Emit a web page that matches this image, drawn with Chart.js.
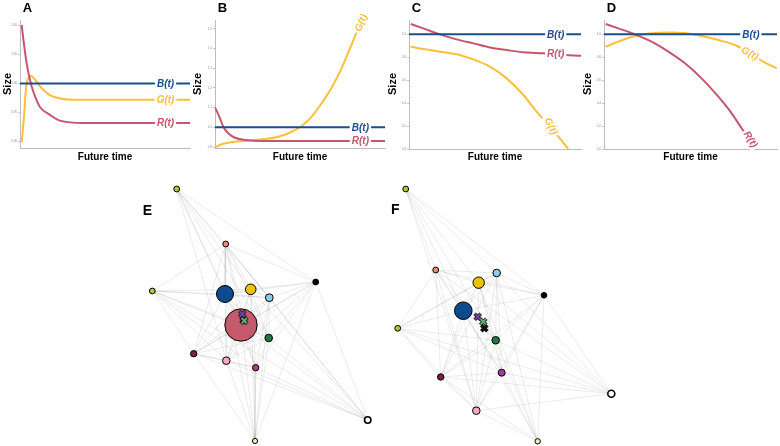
<!DOCTYPE html>
<html>
<head>
<meta charset="utf-8">
<script src="https://cdn.jsdelivr.net/npm/chart.js@4.4.1/dist/chart.umd.min.js"></script>
<style>
body { margin: 0; background: #fff; }
#wrap { position: relative; width: 780px; height: 446px; overflow: hidden; }
canvas { position: absolute; }
</style>
</head>
<body>
<div id="wrap">
	<canvas id="chartA" width="205" height="165" style="left:0px;top:0px"></canvas>
	<canvas id="chartB" width="205" height="165" style="left:185px;top:0px"></canvas>
	<canvas id="chartC" width="205" height="165" style="left:380px;top:0px"></canvas>
	<canvas id="chartD" width="205" height="165" style="left:575px;top:0px"></canvas>
	<canvas id="netE" width="260" height="271" style="left:130px;top:175px"></canvas>
	<canvas id="netF" width="260" height="271" style="left:380px;top:175px"></canvas>
</div>
<script>
var BLUE = '#1b4e8e', GOLD = '#fcbf3a', ROSE = '#c6566e';
var FONT = '"Liberation Sans", Arial, sans-serif';

// ---- panel A ----
var aTimeB = [0, 1];
var aB = [1.0, 1.0];
var aTimeG = [0.01, 0.018, 0.024, 0.031, 0.039, 0.051, 0.065, 0.078, 0.098, 0.118, 0.137, 0.176, 0.235, 0.314, 1.0];
var aG = [0.899, 0.925, 0.943, 0.977, 1.000, 1.010, 1.013, 1.010, 1.003, 0.995, 0.989, 0.980, 0.974, 0.972, 0.972];
var aTimeR = [0.01, 0.018, 0.039, 0.059, 0.078, 0.098, 0.118, 0.176, 0.235, 0.373, 1.0];
var aR = [1.100, 1.080, 1.035, 1.006, 0.986, 0.971, 0.959, 0.946, 0.936, 0.932, 0.932];
var aTicks = [0.90, 0.95, 1.00, 1.05, 1.10];

// ---- panel B ----
var bTimeB = [0, 1];
var bB = [1.0, 1.0];
var bTimeG = [0.004, 0.039, 0.078, 0.176, 0.275, 0.373, 0.431, 0.5, 0.569, 0.627, 0.686, 0.745, 0.794, 0.833];
var bG = [0.900, 0.914, 0.922, 0.931, 0.939, 0.952, 0.970, 1.0, 1.054, 1.122, 1.200, 1.300, 1.400, 1.480];
var bTimeR = [0.0, 0.029, 0.049, 0.078, 0.118, 0.176, 0.275, 1.0];
var bR = [1.101, 1.046, 1.003, 0.970, 0.947, 0.936, 0.931, 0.931];
var bTicks = [0.9, 1.0, 1.1, 1.2, 1.3, 1.4, 1.5];

// ---- panel C ----
var cTimeB = [0, 1];
var cB = [1.0, 1.0];
var cTimeG = [0.01, 0.083, 0.18, 0.277, 0.374, 0.471, 0.568, 0.665, 0.742, 0.878, 0.926];
var cG = [0.892, 0.872, 0.849, 0.826, 0.782, 0.718, 0.616, 0.471, 0.325, 0.09, 0.0];
var cTimeR = [0.01, 0.083, 0.18, 0.277, 0.374, 0.471, 0.568, 0.665, 0.781, 0.878, 1.0];
var cR = [1.09, 1.052, 1.0, 0.956, 0.921, 0.886, 0.863, 0.843, 0.834, 0.822, 0.814];
var cdTicks = [0.0, 0.2, 0.4, 0.6, 0.8, 1.0];

// ---- panel D ----
var dTimeB = [0, 1];
var dB = [1.0, 1.0];
var dTimeG = [0.01, 0.083, 0.179, 0.275, 0.372, 0.468, 0.564, 0.661, 0.757, 0.921, 0.998];
var dG = [0.892, 0.936, 0.985, 1.009, 1.017, 1.011, 0.985, 0.950, 0.907, 0.761, 0.704];
var dTimeR = [0.01, 0.083, 0.179, 0.275, 0.372, 0.468, 0.564, 0.661, 0.738, 0.796, 0.87];
var dR = [1.09, 1.052, 1.0, 0.936, 0.849, 0.747, 0.616, 0.456, 0.311, 0.18, 0.03];

// ---- networks E / F ----
var nodeColors = ['#b5c334', '#f08a6b', '#b5c334', '#0d4a8e', '#e9c200', '#8ccbee', '#000000',
	'#c45a6c', '#1b7a3e', '#7c1f4f', '#f6a9bd', '#a43d97', '#ffffff', '#eeeeb6'];
var eNodeX = [46.7, 95.7, 22.3, 95, 120.7, 139.3, 185.7, 111, 138.7, 63.7, 96.3, 125.7, 237.7, 125];
var eNodeY = [14, 69, 116, 119, 114.3, 122.7, 107, 150, 163, 178.7, 185.7, 192.7, 245, 266];
var eNodeR = [2.9, 2.9, 2.9, 8.5, 5.3, 3.9, 2.9, 16.2, 3.8, 3.2, 3.8, 3.2, 3.2, 2.6];
var fNodeX = [25.7, 55.7, 17.7, 83.3, 98.7, 116.7, 164, null, 115.7, 60.7, 96.3, 121.7, 231.3, 157.7];
var fNodeY = [14, 95, 153.3, 135.7, 107.7, 98, 120.3, null, 165.3, 202, 235.7, 197.7, 218.7, 266.3];
var fNodeR = [2.9, 2.9, 2.9, 8.8, 5.7, 3.8, 2.8, 0, 3.8, 3.2, 3.8, 3.5, 3.5, 2.7];
var crossColors = ['#111111', '#7a3f9e', '#5fae73'];
var eCrossX = [113.5, 112.3, 114.3];
var eCrossY = [145, 139, 145.7];
var fCrossX = [104.3, 97.7, 103.3];
var fCrossY = [153.3, 141.7, 146.7];
var edges = [
	[0,1],[0,3],[0,4],[0,5],[0,6],[0,7],[0,8],[0,10],
	[1,2],[1,3],[1,4],[1,5],[1,6],[1,7],[1,8],[1,9],[1,10],[1,11],[1,12],
	[2,3],[2,4],[2,5],[2,7],[2,8],[2,9],[2,10],[2,11],[2,12],
	[3,4],[3,5],[3,6],[3,7],[3,8],[3,9],[3,10],[3,11],[3,13],
	[4,5],[4,6],[4,7],[4,8],[4,9],[4,10],[4,11],[4,12],[4,13],
	[5,6],[5,7],[5,8],[5,9],[5,10],[5,11],[5,12],[5,13],
	[6,7],[6,8],[6,9],[6,10],[6,11],[6,12],[6,13],
	[7,8],[7,9],[7,10],[7,11],[7,12],[7,13],
	[8,9],[8,10],[8,11],[8,12],[8,13],
	[9,10],[9,11],[9,12],[9,13],
	[10,11],[10,12],[10,13],
	[11,12],[11,13]
];

var _zip = function(xs, ys) {
	var out = [];
	for (var i = 0; i < xs.length; i++) out.push({x: xs[i], y: ys[i]});
	return out;
};

// text drawn on top: panel letter, axis titles, curve labels
var panelText = {
	id: 'panelText',
	afterDatasetsDraw: function(chart, args, opts) {
		var ctx = chart.ctx;
		var area = chart.chartArea;
		ctx.save();
		(opts.curveLabels || []).forEach(function(l) {
			var px = chart.scales.x.getPixelForValue(l.t);
			var py = chart.scales.y.getPixelForValue(l.v);
			ctx.save();
			ctx.translate(px, py);
			ctx.rotate((l.rot || 0) * Math.PI / 180);
			ctx.font = 'italic bold 10px ' + FONT;
			var w = ctx.measureText(l.text).width;
			ctx.fillStyle = '#fff';
			ctx.fillRect(-w / 2 - 2, -6, w + 4, 12);
			ctx.fillStyle = l.color;
			ctx.textAlign = 'center';
			ctx.textBaseline = 'middle';
			ctx.fillText(l.text, 0, 0.5);
			ctx.restore();
		});
		ctx.fillStyle = '#000';
		if (opts.letter) {
			ctx.font = 'bold ' + (opts.letterSize || 13) + 'px ' + FONT;
			ctx.textAlign = 'left';
			ctx.textBaseline = 'alphabetic';
			ctx.fillText(opts.letter, opts.letterX, opts.letterY);
		}
		if (opts.xTitle) {
			ctx.font = 'bold 10px ' + FONT;
			ctx.textAlign = 'center';
			ctx.textBaseline = 'middle';
			ctx.fillText(opts.xTitle, (area.left + area.right) / 2, 157);
		}
		if (opts.yTitle) {
			ctx.save();
			ctx.translate(opts.yTitleX, 84);
			ctx.rotate(-Math.PI / 2);
			ctx.font = 'bold 11px ' + FONT;
			ctx.textAlign = 'center';
			ctx.textBaseline = 'middle';
			ctx.fillText(opts.yTitle, 0, 0);
			ctx.restore();
		}
		ctx.restore();
	}
};

var _lineSet = function(ts, vs, color) {
	return {
		data: _zip(ts, vs),
		borderColor: color,
		borderWidth: 2,
		pointRadius: 0,
		fill: false,
		cubicInterpolationMode: 'monotone'
	};
};

var makeCurveChart = function(id, c) {
	new Chart(document.getElementById(id), {
		type: 'line',
		data: { datasets: [
			_lineSet(c.bT, c.bV, BLUE),
			_lineSet(c.rT, c.rV, ROSE),
			_lineSet(c.gT, c.gV, GOLD)
		] },
		options: {
			responsive: false,
			animation: false,
			devicePixelRatio: 1,
			layout: { autoPadding: false, padding: { top: 20, right: c.padRight, left: 0, bottom: 0 } },
			plugins: {
				legend: { display: false },
				tooltip: { enabled: false },
				panelText: {
					letter: c.letter, letterX: c.left + 2.7, letterY: 11.7,
					xTitle: 'Future time', yTitle: 'Size', yTitleX: c.sizeX,
					curveLabels: c.labels
				}
			},
			scales: {
				x: {
					type: 'linear', min: 0, max: 1,
					ticks: { display: false },
					grid: { display: false },
					border: { color: '#bdbdbd', width: 1 },
					afterFit: function(s) { s.height = 165 - c.bottom; }
				},
				y: {
					min: c.yMin, max: c.yMax,
					afterBuildTicks: function(s) { s.ticks = c.ticks.map(function(v) { return {value: v}; }); },
					ticks: {
						font: { size: 3, family: FONT },
						color: '#8a8a8a',
						padding: 1,
						callback: function(v) { return v.toFixed(c.digits); }
					},
					grid: { drawOnChartArea: false, tickLength: 2, color: '#c4c4c4' },
					border: { color: '#bdbdbd', width: 1 },
					afterFit: function(s) { s.width = c.left; }
				}
			}
		},
		plugins: [panelText]
	});
};

var _edgeData = function(xs, ys) {
	var pts = [];
	edges.forEach(function(e) {
		if (xs[e[0]] === null || xs[e[1]] === null) return;
		pts.push({x: xs[e[0]], y: ys[e[0]]}, {x: xs[e[1]], y: ys[e[1]]}, {x: null, y: null});
	});
	return pts;
};

var makeNetChart = function(id, n) {
	var nodes = [];
	var radii = [], fills = [], widths = [];
	for (var i = 0; i < n.x.length; i++) {
		if (n.x[i] === null) continue;
		nodes.push({x: n.x[i], y: n.y[i]});
		radii.push(n.r[i]);
		fills.push(nodeColors[i]);
		widths.push(nodeColors[i] === '#ffffff' ? 1.6 : 1);
	}
	new Chart(document.getElementById(id), {
		type: 'scatter',
		data: { datasets: [
			{
				data: _edgeData(n.x, n.y), showLine: true, spanGaps: false,
				borderColor: 'rgba(0,0,0,0.1)', borderWidth: 0.8, pointRadius: 0, order: 4
			},
			{
				data: nodes, pointRadius: radii, pointBackgroundColor: fills,
				pointBorderColor: '#000', pointBorderWidth: widths, order: 3
			},
			{
				data: _zip(n.cx, n.cy), pointStyle: 'crossRot', pointRadius: 4.3,
				pointBorderColor: '#1a1a1a', pointBorderWidth: 3.6, order: 2
			},
			{
				data: _zip(n.cx, n.cy), pointStyle: 'crossRot', pointRadius: 3.8,
				pointBorderColor: crossColors, pointBorderWidth: 2, order: 1
			}
		] },
		options: {
			responsive: false,
			animation: false,
			devicePixelRatio: 1,
			layout: { autoPadding: false, padding: 0 },
			plugins: {
				legend: { display: false },
				tooltip: { enabled: false },
				panelText: { letter: n.letter, letterX: n.letterX, letterY: n.letterY, letterSize: 14 }
			},
			scales: {
				x: { type: 'linear', min: 0, max: 260, display: false },
				y: { type: 'linear', min: 0, max: 271, reverse: true, display: false }
			}
		},
		plugins: [panelText]
	});
};

window.addEventListener('load', function() {
	makeCurveChart('chartA', {
		letter: 'A', left: 20, padRight: 15, bottom: 148, sizeX: 8.3,
		yMin: 0.889, yMax: 1.109, ticks: aTicks, digits: 2,
		bT: aTimeB, bV: aB, gT: aTimeG, gV: aG, rT: aTimeR, rV: aR,
		labels: [
			{text: 'B(t)', t: 0.856, v: 1.0, color: BLUE},
			{text: 'G(t)', t: 0.856, v: 0.972, color: GOLD},
			{text: 'R(t)', t: 0.856, v: 0.932, color: ROSE}
		]
	});
	makeCurveChart('chartB', {
		letter: 'B', left: 30, padRight: 5, bottom: 148, sizeX: 13.3,
		yMin: 0.895, yMax: 1.544, ticks: bTicks, digits: 1,
		bT: bTimeB, bV: bB, gT: bTimeG, gV: bG, rT: bTimeR, rV: bR,
		labels: [
			{text: 'B(t)', t: 0.855, v: 1.0, color: BLUE},
			{text: 'R(t)', t: 0.855, v: 0.931, color: ROSE},
			{text: 'G(t)', t: 0.858, v: 1.53, color: GOLD, rot: -68}
		]
	});
	makeCurveChart('chartC', {
		letter: 'C', left: 29, padRight: 4, bottom: 149, sizeX: 13.3,
		yMin: 0, yMax: 1.125, ticks: cdTicks, digits: 1,
		bT: cTimeB, bV: cB, gT: cTimeG, gV: cG, rT: cTimeR, rV: cR,
		labels: [
			{text: 'B(t)', t: 0.853, v: 1.0, color: BLUE},
			{text: 'R(t)', t: 0.853, v: 0.834, color: ROSE},
			{text: 'G(t)', t: 0.826, v: 0.2, color: GOLD, rot: 65}
		]
	});
	makeCurveChart('chartD', {
		letter: 'D', left: 29, padRight: 3, bottom: 149, sizeX: 13.3,
		yMin: 0, yMax: 1.125, ticks: cdTicks, digits: 1,
		bT: dTimeB, bV: dB, gT: dTimeG, gV: dG, rT: dTimeR, rV: dR,
		labels: [
			{text: 'B(t)', t: 0.849, v: 1.0, color: BLUE},
			{text: 'G(t)', t: 0.844, v: 0.835, color: GOLD, rot: 27},
			{text: 'R(t)', t: 0.848, v: 0.085, color: ROSE, rot: 57}
		]
	});
	makeNetChart('netE', {
		letter: 'E', letterX: 12.7, letterY: 40,
		x: eNodeX, y: eNodeY, r: eNodeR, cx: eCrossX, cy: eCrossY
	});
	makeNetChart('netF', {
		letter: 'F', letterX: 11, letterY: 39,
		x: fNodeX, y: fNodeY, r: fNodeR, cx: fCrossX, cy: fCrossY
	});
});
</script>
</body>
</html>
